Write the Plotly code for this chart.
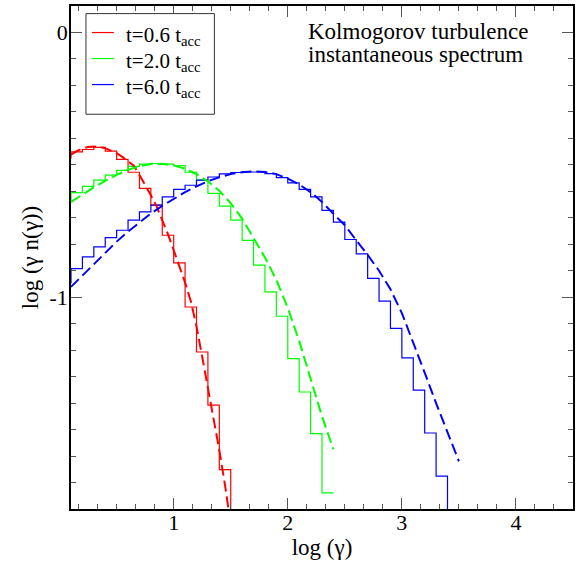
import plotly.graph_objects as go

# ---------------- data ----------------
# histogram bins: left edges in log(gamma), bin width 0.1 ; last value = next bin (off-scale / end)
red_edges = [0.0, 0.1, 0.2, 0.3, 0.4, 0.5, 0.6, 0.7, 0.8, 0.9, 1.0, 1.1, 1.2, 1.3, 1.4, 1.5, 1.6]
red_vals = [-0.475, -0.451, -0.442, -0.434, -0.448, -0.479, -0.528, -0.589, -0.652, -0.766,
            -0.870, -1.037, -1.207, -1.408, -1.651, -1.950, -1.950]

green_edges = [0.0, 0.1, 0.2, 0.3, 0.4, 0.5, 0.6, 0.7, 0.8, 0.9, 1.0, 1.1, 1.2, 1.3, 1.4, 1.5,
               1.6, 1.7, 1.8, 1.9, 2.0, 2.1, 2.2, 2.3, 2.4]
green_vals = [-0.640, -0.605, -0.581, -0.558, -0.539, -0.521, -0.506, -0.497, -0.495, -0.497,
              -0.503, -0.528, -0.558, -0.608, -0.656, -0.709, -0.785, -0.879, -0.980, -1.072,
              -1.232, -1.358, -1.515, -1.739, -1.739]

blue_edges = [0.0, 0.1, 0.2, 0.3, 0.4, 0.5, 0.6, 0.7, 0.8, 0.9, 1.0, 1.1, 1.2, 1.3, 1.4, 1.5,
              1.6, 1.7, 1.8, 1.9, 2.0, 2.1, 2.2, 2.3, 2.4, 2.5, 2.6, 2.7, 2.8, 2.9, 3.0, 3.1,
              3.2, 3.3, 3.4, 3.5]
blue_vals = [-0.945, -0.892, -0.848, -0.810, -0.775, -0.747, -0.709, -0.678, -0.652, -0.621,
             -0.593, -0.577, -0.558, -0.546, -0.534, -0.529, -0.527, -0.527, -0.533, -0.548,
             -0.568, -0.593, -0.621, -0.672, -0.716, -0.782, -0.836, -0.929, -1.015, -1.118,
             -1.229, -1.351, -1.513, -1.676, -1.950, -1.950]

# fitted curves (dashed)
red_fit_x = [0.10, 0.15, 0.20, 0.25, 0.30, 0.35, 0.40, 0.45, 0.50, 0.55, 0.60, 0.65, 0.70,
             0.75, 0.80, 0.85, 0.90, 0.95, 1.00, 1.05, 1.10, 1.15, 1.20, 1.25, 1.30, 1.35,
             1.40, 1.45, 1.48]
red_fit_y = [-0.462, -0.448, -0.438, -0.433, -0.431, -0.432, -0.437, -0.445, -0.456, -0.470,
             -0.486, -0.503, -0.538, -0.575, -0.615, -0.657, -0.708, -0.762, -0.822, -0.880,
             -0.945, -1.015, -1.110, -1.225, -1.338, -1.455, -1.578, -1.710, -1.800]

green_fit_x = [0.1, 0.2, 0.3, 0.4, 0.5, 0.6, 0.7, 0.8, 0.9, 1.0, 1.1, 1.2, 1.3, 1.4, 1.5,
               1.6, 1.7, 1.8, 1.9, 2.0, 2.1, 2.2, 2.3, 2.4]
green_fit_y = [-0.640, -0.612, -0.585, -0.561, -0.538, -0.519, -0.505, -0.497, -0.496, -0.502,
               -0.515, -0.535, -0.562, -0.598, -0.645, -0.703, -0.775, -0.850, -0.935, -1.040,
               -1.165, -1.305, -1.450, -1.575]

blue_fit_x = [0.1, 0.2, 0.3, 0.4, 0.5, 0.6, 0.7, 0.8, 0.9, 1.0, 1.1, 1.2, 1.3, 1.4, 1.5,
              1.6, 1.7, 1.8, 1.9, 2.0, 2.1, 2.2, 2.3, 2.4, 2.5, 2.6, 2.7, 2.8, 2.9, 3.0,
              3.1, 3.2, 3.3, 3.4, 3.5]
blue_fit_y = [-0.961, -0.918, -0.873, -0.830, -0.790, -0.752, -0.717, -0.684, -0.655, -0.628,
              -0.603, -0.581, -0.562, -0.547, -0.535, -0.528, -0.525, -0.527, -0.535, -0.552,
              -0.574, -0.603, -0.640, -0.685, -0.728, -0.785, -0.840, -0.900, -0.970, -1.060,
              -1.170, -1.285, -1.400, -1.510, -1.620]

labels = ["t=0.6 t<sub>acc</sub>", "t=2.0 t<sub>acc</sub>", "t=6.0 t<sub>acc</sub>"]
colors = ["#ff0000", "#00ff00", "#0000ff"]

x_tickvals = [1, 2, 3, 4]
x_ticktext = ["1", "2", "3", "4"]
y_tickvals = [-1, 0]
y_ticktext = ["-1", "0"]

FONT = "Liberation Serif"

fig = go.Figure()

hists = [(red_edges, red_vals), (green_edges, green_vals), (blue_edges, blue_vals)]
fits = [(red_fit_x, red_fit_y), (green_fit_x, green_fit_y), (blue_fit_x, blue_fit_y)]

for (ex, ev), lab, c in zip(hists, labels, colors):
    fig.add_trace(go.Scatter(x=ex, y=ev, mode="lines", line=dict(color=c, width=1.2, shape="hv"),
                             name=lab, showlegend=False))

for (fx, fy), c in zip(fits, colors):
    fig.add_trace(go.Scatter(x=fx, y=fy, mode="lines", line=dict(color=c, width=2, dash="11px,5px"),
                             showlegend=False))

axis_common = dict(
    showline=True, linecolor="black", linewidth=1.5, mirror="ticks",
    ticks="inside", ticklen=11, tickwidth=1, tickcolor="#555",
    showgrid=False, zeroline=False,
    tickfont=dict(family=FONT, size=22, color="black"),
    title_font=dict(family=FONT, size=23, color="black"),
)

fig.update_xaxes(
    range=[0.1, 4.5], tickmode="array", tickvals=x_tickvals, ticktext=x_ticktext,
    minor=dict(tickmode="linear", tick0=0, dtick=1/6, ticklen=5, ticks="inside", tickcolor="#555", showgrid=False),
    title=dict(text="log (γ)", standoff=4),
    ticklabelstandoff=-7,
    **axis_common,
)
fig.update_yaxes(
    range=[-1.8, 0.1], tickmode="array", tickvals=y_tickvals, ticktext=y_ticktext,
    minor=dict(tickmode="linear", tick0=0, dtick=0.1, ticklen=5, ticks="inside", tickcolor="#555", showgrid=False),
    title=dict(text="log (γ n(γ))", standoff=4),
    ticklabelstandoff=-3,
    **axis_common,
)

fig.add_annotation(text="Kolmogorov turbulence", xref="paper", yref="paper", x=0.469, y=0.9497,
                   xanchor="left", yanchor="middle", showarrow=False,
                   font=dict(family=FONT, size=23, color="black"))
fig.add_annotation(text="instantaneous spectrum", xref="paper", yref="paper", x=0.469, y=0.9034,
                   xanchor="left", yanchor="middle", showarrow=False,
                   font=dict(family=FONT, size=23, color="black"))

# ---- legend drawn by hand (box, line samples, labels) ----
leg_x0, leg_x1, leg_y0, leg_y1 = 0.0298, 0.2857, 0.7848, 0.9849
sample_x0, sample_x1, text_x = 0.0417, 0.0853, 0.1060
row_y = [0.9472, 0.8955, 0.8438]
fig.add_shape(type="rect", xref="paper", yref="paper", x0=leg_x0, x1=leg_x1, y0=leg_y0, y1=leg_y1,
              line=dict(color="#333", width=1), fillcolor="white", layer="above")
for lab, c, ry in zip(labels, colors, row_y):
    fig.add_shape(type="line", xref="paper", yref="paper", x0=sample_x0, x1=sample_x1, y0=ry, y1=ry,
                  line=dict(color=c, width=1.2), layer="above")
    fig.add_annotation(text=lab, xref="paper", yref="paper", x=text_x, y=ry - 0.006,
                       xanchor="left", yanchor="middle", showarrow=False,
                       font=dict(family=FONT, size=21, color="black"))

fig.update_layout(
    width=577, height=561,
    margin=dict(l=71, r=2, t=6, b=52),
    plot_bgcolor="white", paper_bgcolor="white",
    font=dict(family=FONT, color="black"),
    showlegend=False,
)

fig.write_html("out.html")
